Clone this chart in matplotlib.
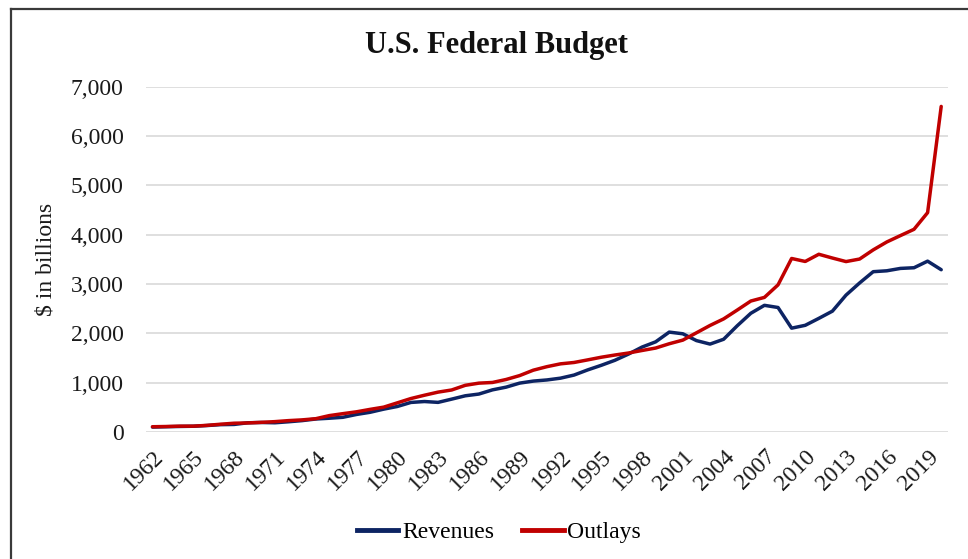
import matplotlib
matplotlib.use("Agg")
import matplotlib.pyplot as plt
from matplotlib.lines import Line2D
from matplotlib.ticker import FuncFormatter

years = list(range(1962, 2021))
revenues = [
    99.7, 106.6, 112.6, 116.8, 130.8, 148.8, 153.0, 186.9, 192.8, 187.1,
    207.3, 230.8, 263.2, 279.1, 298.1, 355.6, 399.6, 463.3, 517.1, 599.3,
    617.8, 600.6, 666.4, 734.0, 769.2, 854.3, 909.2, 991.1, 1032.0, 1055.0,
    1091.2, 1154.3, 1258.6, 1351.8, 1453.1, 1579.2, 1721.7, 1827.5, 2025.2, 1991.1,
    1853.1, 1782.3, 1880.1, 2153.6, 2406.9, 2568.0, 2524.0, 2105.0, 2162.7, 2303.5,
    2450.0, 2775.1, 3021.5, 3249.9, 3268.0, 3316.2, 3329.9, 3463.4, 3290.0,
]
outlays = [
    106.8, 111.3, 118.5, 118.2, 134.5, 157.5, 178.1, 183.6, 195.6, 210.2,
    230.7, 245.7, 269.4, 332.3, 371.8, 409.2, 458.7, 504.0, 590.9, 678.2,
    745.7, 808.4, 851.8, 946.3, 990.4, 1004.0, 1064.4, 1143.7, 1253.0, 1324.2,
    1381.5, 1409.4, 1461.8, 1515.7, 1560.5, 1601.1, 1652.5, 1701.8, 1789.0, 1862.8,
    2010.9, 2159.9, 2292.8, 2472.0, 2655.1, 2728.7, 2982.5, 3517.7, 3457.1, 3603.1,
    3526.6, 3454.9, 3506.3, 3691.9, 3852.6, 3981.6, 4109.0, 4447.0, 6600.0,
]
series_names = ["Revenues", "Outlays"]
series_colors = ["#0d2463", "#c00000"]

plt.rcParams["font.family"] = ["Liberation Serif", "DejaVu Serif"]

W, H = 968, 559
fig = plt.figure(figsize=(W / 100, H / 100), dpi=100)
ax = fig.add_axes([145.7 / W, 1 - 432 / H, (948 - 145.7) / W, (432 - 86.7) / H])

x = list(range(len(years)))
for vals, name, col in zip([revenues, outlays], series_names, series_colors):
    ax.plot(x, vals, color=col, lw=2.5, label=name, solid_capstyle="round")

ax.set_xlim(-0.5, len(years) - 0.5)
ax.set_ylim(0, 7000)
ax.set_yticks(range(0, 7001, 1000))
ax.yaxis.set_major_formatter(FuncFormatter(lambda v, p: f"{int(v):,}"))
ax.set_xticks(x[::3])
ax.set_xticklabels([str(y) for y in years[::3]], rotation=45, ha="right",
                   rotation_mode="anchor")
ax.tick_params(axis="both", length=0, labelsize=17, colors="#1a1a1a")
ax.tick_params(axis="y", pad=16)
ax.tick_params(axis="x", pad=10)
for s in ax.spines.values():
    s.set_visible(False)
ax.grid(axis="y", color="#d9d9d9", lw=1.2)
ax.set_axisbelow(True)

ax.set_ylabel("$ in billions", fontsize=17, color="#1a1a1a", labelpad=10)
fig.text(0.513, 1 - 45 / H, "U.S. Federal Budget", ha="center", va="center",
         fontsize=22, fontweight="bold", color="#111111")

handles = [Line2D([0], [0], color=c, lw=3.5) for c in series_colors]
fig.legend(handles, series_names, loc="center", bbox_to_anchor=(499 / W, 1 - 532 / H),
           ncol=2, frameon=False, fontsize=17, handlelength=1.75, handletextpad=0.15,
           columnspacing=1.2)

# outer frame (top and left edges)
fig.add_artist(Line2D([11 / W, 11 / W], [0, 1 - 9 / H], transform=fig.transFigure,
                      color="#3a3a3a", lw=1.6))
fig.add_artist(Line2D([11 / W, 1], [1 - 9 / H, 1 - 9 / H], transform=fig.transFigure,
                      color="#3a3a3a", lw=1.6))

fig.savefig("out.png", dpi=100)
